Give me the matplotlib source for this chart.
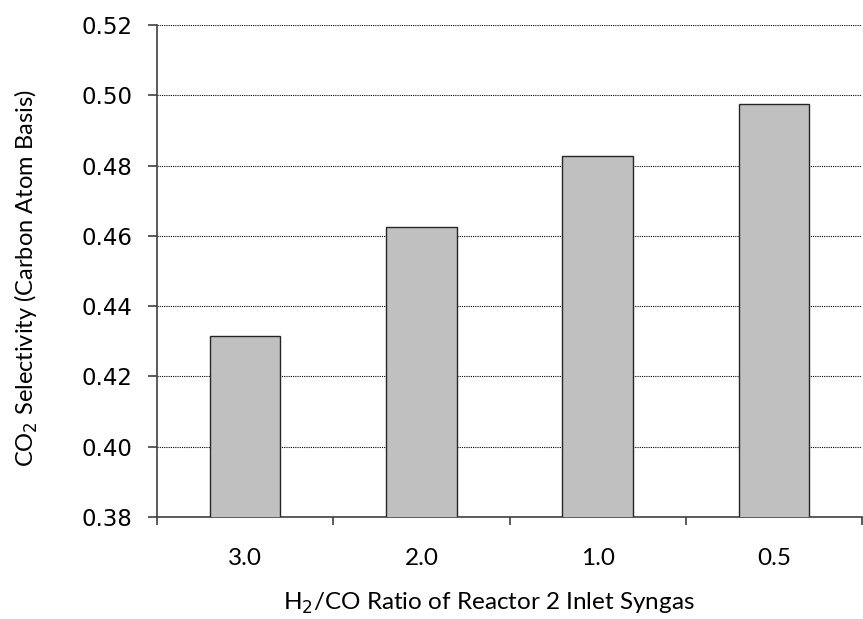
import matplotlib.pyplot as plt
import numpy as np

categories = ['3.0', '2.0', '1.0', '0.5']
selectivity = [0.4315, 0.4626, 0.4826, 0.4975]
yticks = [0.38, 0.40, 0.42, 0.44, 0.46, 0.48, 0.50, 0.52]

fig = plt.figure(figsize=(8.63, 6.19), dpi=100)
ax = fig.add_axes([157 / 863, 1 - 517 / 619, (862 - 157) / 863, (517 - 25) / 619])

x = np.arange(len(categories))
ax.bar(x, selectivity, width=0.4, color='#c0c0c0', edgecolor='#262626',
       linewidth=1.0, zorder=3)

ax.set_ylim(0.38, 0.52)
ax.set_xlim(-0.5, len(categories) - 0.5)
ax.set_yticks(yticks)
ax.set_yticklabels(['%.2f' % v for v in yticks], fontsize=16.5, family='DejaVu Sans')
ax.yaxis.grid(True, linestyle=(0, (1, 1)), color='#000000', linewidth=0.8, zorder=0)

# category ticks sit between bars, labels in the middle
ax.set_xticks(np.arange(len(categories) + 1) - 0.5)
ax.set_xticklabels([])
ax.set_xticks(x, minor=True)
ax.set_xticklabels(categories, minor=True, fontsize=17.5, family='Lato')
ax.tick_params(axis='x', which='minor', length=0, pad=22)
ax.tick_params(axis='x', which='major', length=6, width=1.2, color='#404040', direction='out')
ax.tick_params(axis='y', length=6.5, width=1.2, color='#404040', pad=11)

for side in ['top', 'right']:
    ax.spines[side].set_visible(False)
for side in ['left', 'bottom']:
    ax.spines[side].set_color('#404040')
    ax.spines[side].set_linewidth(1.2)

ax.set_xlabel('H$_2$/CO Ratio of Reactor 2 Inlet Syngas', fontsize=17.5, family='Lato', labelpad=16)
ax.set_ylabel('CO$_2$ Selectivity (Carbon Atom Basis)', fontsize=17, family='Lato', labelpad=30)
# titles in the original sit a bit off centre
ax.xaxis.label.set_x(0.47)
ax.yaxis.label.set_y(0.485)

fig.savefig('out.png', dpi=100)
